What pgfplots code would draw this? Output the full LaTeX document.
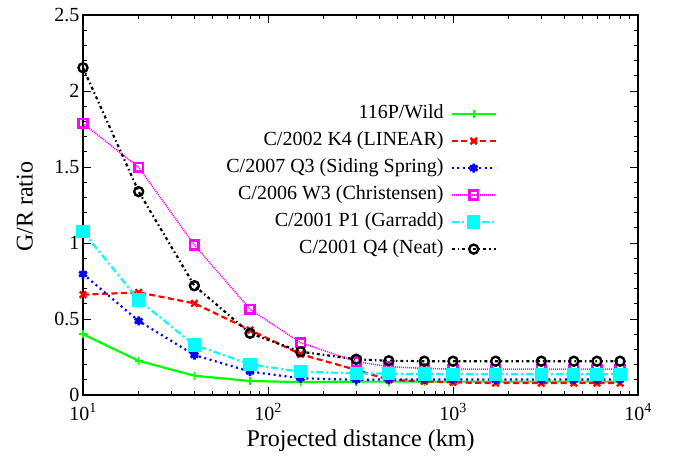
\documentclass[border=0pt]{standalone}
\usepackage{fontspec}
\setmainfont{Liberation Serif}
\usepackage{pgfplots}
\pgfplotsset{compat=1.18}
\definecolor{cgreen}{RGB}{0,255,0}
\definecolor{cred}{RGB}{255,0,0}
\definecolor{cblue}{RGB}{0,0,255}
\definecolor{cmag}{RGB}{255,0,255}
\definecolor{ccyan}{RGB}{0,255,255}
\begin{document}
\begin{tikzpicture}
\useasboundingbox (-83pt,-62pt) rectangle (595pt,395pt);
\begin{axis}[
  at={(0pt,0pt)}, anchor=south west,
  scale only axis, width=555pt, height=380pt,
  font=\fontsize{20}{24}\selectfont,
  xmode=log, xmin=10, xmax=10000, ymin=0, ymax=2.5,
  xtick={10,100,1000,10000},
  xticklabels={10\textsuperscript{1},10\textsuperscript{2},10\textsuperscript{3},10\textsuperscript{4}},
  xticklabel style={yshift=-5pt},
  ytick={0,0.5,1,1.5,2,2.5},
  minor y tick num=4,
  /pgf/number format/assume math mode=true,
  yticklabel style={/pgf/number format/fixed},
  tick align=inside,
  major tick length=8pt, minor tick length=4pt,
  tick style={line width=0.9pt, black},
  axis line style={line width=1.2pt},
  xlabel={Projected distance (km)},
  ylabel={G/R ratio},
  xlabel style={at={(axis description cs:0.5,0)}, anchor=center, yshift=-46pt, font=\fontsize{24}{28}\selectfont},
  ylabel style={at={(axis description cs:-0.105,0.495)}, anchor=center, font=\fontsize{24}{28}\selectfont},
  clip=false,
  legend plot pos=right,
  legend cell align=right,
  legend style={draw=none, fill=none, inner sep=0pt,
    at={(axis description cs:0.746,0.77)}, anchor=north east,
    row sep=4pt, column sep=5pt,
    nodes={inner sep=2pt, text height=14pt, text depth=5pt}},
  legend image code/.code={
    \draw[mark repeat=2,mark phase=2] plot coordinates {(0pt,0pt) (22pt,0pt) (44pt,0pt)};
  },
]
\addplot[cgreen, line width=2.2pt, mark=+, mark size=4pt, mark options={solid, line width=1.6pt}]
coordinates {(10,0.40) (20,0.225) (40,0.127) (80,0.092) (150,0.085) (300,0.088) (450,0.088) (700,0.088) (1000,0.088) (1700,0.088) (3000,0.088) (4500,0.088) (6000,0.088) (8000,0.088)};
\addlegendentry{116P/Wild}
\addplot[cred, line width=2.2pt, dash pattern=on 6pt off 3.5pt, mark=x, mark size=4.5pt, mark options={solid, line width=2.4pt}]
coordinates {(10,0.66) (20,0.675) (40,0.603) (80,0.428) (150,0.268) (300,0.165) (450,0.10) (700,0.09) (1000,0.083) (1700,0.078) (3000,0.078) (4500,0.078) (6000,0.078) (8000,0.078)};
\addlegendentry{C/2002 K4 (LINEAR)}
\addplot[cblue, line width=2.2pt, dash pattern=on 2pt off 3.5pt, mark=asterisk, mark size=4.5pt, mark options={solid, line width=2.8pt}]
coordinates {(10,0.796) (20,0.487) (40,0.263) (80,0.154) (150,0.110) (300,0.100) (450,0.102) (700,0.102) (1000,0.102) (1700,0.102) (3000,0.102) (4500,0.102) (6000,0.102) (8000,0.102)};
\addlegendentry{C/2007 Q3 (Siding Spring)}
\addplot[cmag, line width=1.6pt, dash pattern=on 1pt off 1pt, mark=square, mark size=4.3pt, mark options={solid, line width=2.6pt}]
coordinates {(10,1.787) (20,1.498) (40,0.987) (80,0.564) (150,0.344) (300,0.22) (450,0.186) (700,0.175) (1000,0.17) (1700,0.17) (3000,0.17) (4500,0.17) (6000,0.17) (8000,0.17)};
\addlegendentry{C/2006 W3 (Christensen)}
\addplot[ccyan, line width=2.2pt, dash pattern=on 7pt off 3pt on 2pt off 3pt, mark=square*, mark size=5.5pt, mark options={solid}]
coordinates {(10,1.074) (20,0.625) (40,0.329) (80,0.202) (150,0.153) (300,0.143) (450,0.14) (700,0.138) (1000,0.137) (1700,0.137) (3000,0.137) (4500,0.137) (6000,0.137) (8000,0.137)};
\addlegendentry{C/2001 P1 (Garradd)}
\addplot[black, line width=2.2pt, dash pattern=on 3pt off 3pt on 1.5pt off 3pt, mark=o, mark size=4.5pt, mark options={solid, line width=2.4pt}]
coordinates {(10,2.153) (20,1.338) (40,0.719) (80,0.406) (150,0.285) (300,0.235) (450,0.225) (700,0.222) (1000,0.222) (1700,0.222) (3000,0.222) (4500,0.222) (6000,0.222) (8000,0.222)};
\addlegendentry{C/2001 Q4 (Neat)}
\end{axis}
\end{tikzpicture}
\end{document}
